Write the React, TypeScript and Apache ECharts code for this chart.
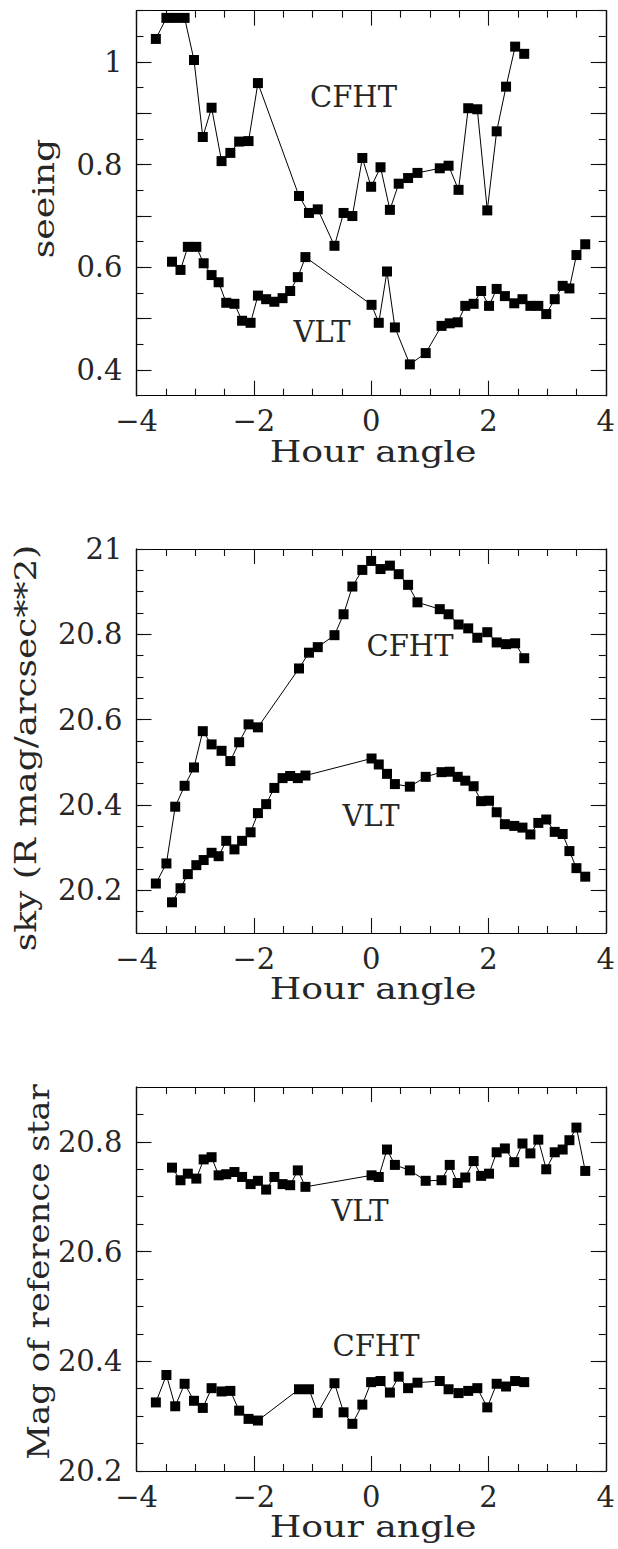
import React, { useEffect, useRef } from "react";
import * as echarts from "echarts";

// Hour angles of the exposures (shared by the three panels)
const cfhtHA = [-3.67, -3.49, -3.34, -3.18, -3.02, -2.87, -2.72, -2.55, -2.4, -2.25, -2.09, -1.93, -1.23, -1.06, -0.91, -0.625, -0.47, -0.32, -0.15, 0.0, 0.16, 0.32, 0.47, 0.63, 0.79, 1.17, 1.32, 1.49, 1.655, 1.81, 1.98, 2.14, 2.3, 2.455, 2.61];
const vltHA = [-3.395, -3.25, -3.125, -2.98, -2.855, -2.72, -2.6, -2.47, -2.33, -2.2, -2.055, -1.93, -1.79, -1.65, -1.51, -1.38, -1.25, -1.12, 0.007, 0.13, 0.27, 0.405, 0.66, 0.93, 1.2, 1.34, 1.476, 1.605, 1.747, 1.875, 2.01, 2.14, 2.28, 2.44, 2.58, 2.715, 2.85, 2.985, 3.13, 3.265, 3.38, 3.5, 3.65];

// Panel 1: seeing
const seeingCFHT = [1.045, 1.086, 1.086, 1.086, 1.004, 0.854, 0.911, 0.807, 0.823, 0.845, 0.846, 0.959, 0.739, 0.706, 0.713, 0.642, 0.706, 0.7, 0.813, 0.757, 0.795, 0.712, 0.763, 0.774, 0.784, 0.793, 0.798, 0.751, 0.91, 0.908, 0.711, 0.865, 0.952, 1.03, 1.016];
const seeingVLT = [0.611, 0.595, 0.64, 0.64, 0.608, 0.585, 0.571, 0.531, 0.529, 0.496, 0.492, 0.545, 0.538, 0.533, 0.54, 0.554, 0.581, 0.62, 0.527, 0.492, 0.592, 0.483, 0.411, 0.433, 0.486, 0.491, 0.493, 0.525, 0.529, 0.554, 0.525, 0.558, 0.544, 0.53, 0.538, 0.525, 0.525, 0.509, 0.538, 0.564, 0.559, 0.624, 0.645];

// Panel 2: sky brightness
const skyCFHT = [20.216, 20.263, 20.396, 20.445, 20.488, 20.573, 20.542, 20.527, 20.503, 20.547, 20.589, 20.582, 20.72, 20.757, 20.77, 20.798, 20.847, 20.912, 20.951, 20.972, 20.953, 20.961, 20.941, 20.916, 20.875, 20.859, 20.847, 20.823, 20.814, 20.792, 20.805, 20.781, 20.777, 20.779, 20.744];
const skyVLT = [20.172, 20.205, 20.238, 20.259, 20.271, 20.288, 20.28, 20.316, 20.296, 20.316, 20.336, 20.381, 20.402, 20.44, 20.463, 20.468, 20.463, 20.469, 20.509, 20.495, 20.473, 20.449, 20.443, 20.466, 20.477, 20.478, 20.466, 20.457, 20.444, 20.409, 20.41, 20.383, 20.355, 20.351, 20.347, 20.331, 20.358, 20.366, 20.337, 20.332, 20.292, 20.252, 20.232];

// Panel 3: magnitude of reference star
const refVLT = [20.753, 20.73, 20.742, 20.733, 20.768, 20.772, 20.739, 20.741, 20.745, 20.736, 20.723, 20.729, 20.713, 20.736, 20.723, 20.721, 20.748, 20.718, 20.739, 20.736, 20.786, 20.758, 20.748, 20.729, 20.73, 20.758, 20.725, 20.735, 20.765, 20.738, 20.742, 20.781, 20.788, 20.763, 20.797, 20.779, 20.804, 20.75, 20.781, 20.786, 20.803, 20.826, 20.747];
const refCFHT = [20.325, 20.375, 20.318, 20.359, 20.328, 20.315, 20.351, 20.345, 20.346, 20.31, 20.295, 20.292, 20.349, 20.349, 20.306, 20.36, 20.307, 20.286, 20.321, 20.362, 20.364, 20.343, 20.372, 20.351, 20.361, 20.364, 20.349, 20.342, 20.346, 20.351, 20.316, 20.359, 20.354, 20.364, 20.362];

// Tick labels
const seeingLabels = [0.4, 0.6, 0.8, 1.0];
const skyLabels = [20.2, 20.4, 20.6, 20.8, 21.0];
const refLabels = [20.2, 20.4, 20.6, 20.8];

const FONT = '"DejaVu Serif", serif';
const TXT = "#262626";

function steps(from: number, to: number, step: number): number[] {
  const out: number[] = [];
  const n = Math.round((to - from) / step);
  for (let i = 0; i <= n; i++) out.push(Math.round((from + i * step) * 1000) / 1000);
  return out;
}

const pair = (xs: number[], ys: number[]) => xs.map((x, i) => [x, ys[i]]);

const panels = [
  { top: 10.7, height: 385, min: 0.35, max: 1.1, majors: steps(0.4, 1.1, 0.1), minors: steps(0.35, 1.1, 0.05), labels: seeingLabels, cfht: seeingCFHT, vlt: seeingVLT },
  { top: 549, height: 384, min: 20.1, max: 21.0, majors: steps(20.2, 21.0, 0.2), minors: steps(20.1, 21.0, 0.05), labels: skyLabels, cfht: skyCFHT, vlt: skyVLT },
  { top: 1087, height: 384, min: 20.2, max: 20.9, majors: steps(20.2, 20.8, 0.2), minors: steps(20.2, 20.9, 0.05), labels: refLabels, cfht: refCFHT, vlt: refVLT },
];

const LEFT = 136.5;
const WIDTH = 473.5;

export default function App() {
  const ref = useRef<HTMLDivElement>(null);
  useEffect(() => {
    if (!ref.current) return;
    const chart = echarts.init(ref.current, null, { renderer: "svg" });
    const grid: any[] = [];
    const xAxis: any[] = [];
    const yAxis: any[] = [];
    const series: any[] = [];
    const tickLine = { color: "#111", width: 1.1 };
    const axisLine = { show: true, onZero: false, lineStyle: { color: "#000", width: 1.2 } };
    panels.forEach((p, g) => {
      grid.push({ left: LEFT, top: p.top, width: WIDTH, height: p.height, show: false });
      ["bottom", "top"].forEach((pos, k) => {
        xAxis.push({
          type: "value", gridIndex: g, position: pos, min: -4, max: 4, interval: 2,
          axisLine,
          axisTick: { show: true, inside: true, length: 15, lineStyle: tickLine },
          minorTick: { show: true, splitNumber: 4, length: 7, lineStyle: tickLine },
          splitLine: { show: false },
          axisLabel: {
            show: k === 0, margin: 11, fontFamily: FONT, fontSize: 29, color: TXT,
            formatter: (v: number) => (v < 0 ? "\u2212" + Math.abs(v) : String(v)),
          },
        });
      });
      ["left", "right"].forEach((pos, k) => {
        yAxis.push({
          type: "value", gridIndex: g, position: pos, min: p.min, max: p.max,
          axisLine,
          axisTick: { show: true, inside: true, length: 15, lineStyle: tickLine, customValues: p.majors },
          splitLine: { show: false },
          axisLabel: {
            show: k === 0, customValues: p.labels, margin: 14, fontFamily: FONT, fontSize: 29, color: TXT,
            formatter: (v: number) => String(+v.toFixed(2)),
          },
        });
        yAxis.push({
          type: "value", gridIndex: g, position: pos, min: p.min, max: p.max,
          axisLine,
          axisTick: { show: true, inside: true, length: 7, lineStyle: tickLine, customValues: p.minors },
          splitLine: { show: false },
          axisLabel: { show: false },
        });
      });
      [p.cfht, p.vlt].forEach((ys, s) => {
        series.push({
          type: "line", xAxisIndex: 2 * g, yAxisIndex: 4 * g,
          data: pair(s === 0 ? cfhtHA : vltHA, ys),
          symbol: "rect", symbolSize: 10, showSymbol: true, clip: false,
          itemStyle: { color: "#000" },
          lineStyle: { color: "#000", width: 1 },
          emphasis: { disabled: true },
        });
      });
    });

    const txt = (text: string, x: number, y: number, opts: any = {}) => ({
      type: "text", x, y, rotation: opts.rotation || 0, scaleX: opts.scaleX || 1,
      style: { text, fontFamily: FONT, fontSize: 29, fill: TXT, align: "center", verticalAlign: "middle" },
    });
    const graphic = [
      txt("seeing", 44, 198.5, { rotation: Math.PI / 2, scaleX: 1.25 }),
      txt("sky (R mag/arcsec**2)", 26, 748, { rotation: Math.PI / 2, scaleX: 1.24 }),
      txt("Mag of reference star", 39, 1272, { rotation: Math.PI / 2, scaleX: 1.17 }),
      txt("Hour angle", 373, 452, { scaleX: 1.25 }),
      txt("Hour angle", 373, 989, { scaleX: 1.25 }),
      txt("Hour angle", 373, 1527, { scaleX: 1.25 }),
      txt("CFHT", 353.5, 96.5),
      txt("VLT", 322, 332),
      txt("CFHT", 410, 646),
      txt("VLT", 371, 816),
      txt("VLT", 360, 1211),
      txt("CFHT", 376, 1346),
    ];

    chart.setOption({ animation: false, backgroundColor: "#fff", grid, xAxis, yAxis, series, graphic });
    return () => chart.dispose();
  }, []);
  return <div ref={ref} style={{ position: "absolute", left: 0, top: 0, width: 618, height: 1549 }} />;
}
